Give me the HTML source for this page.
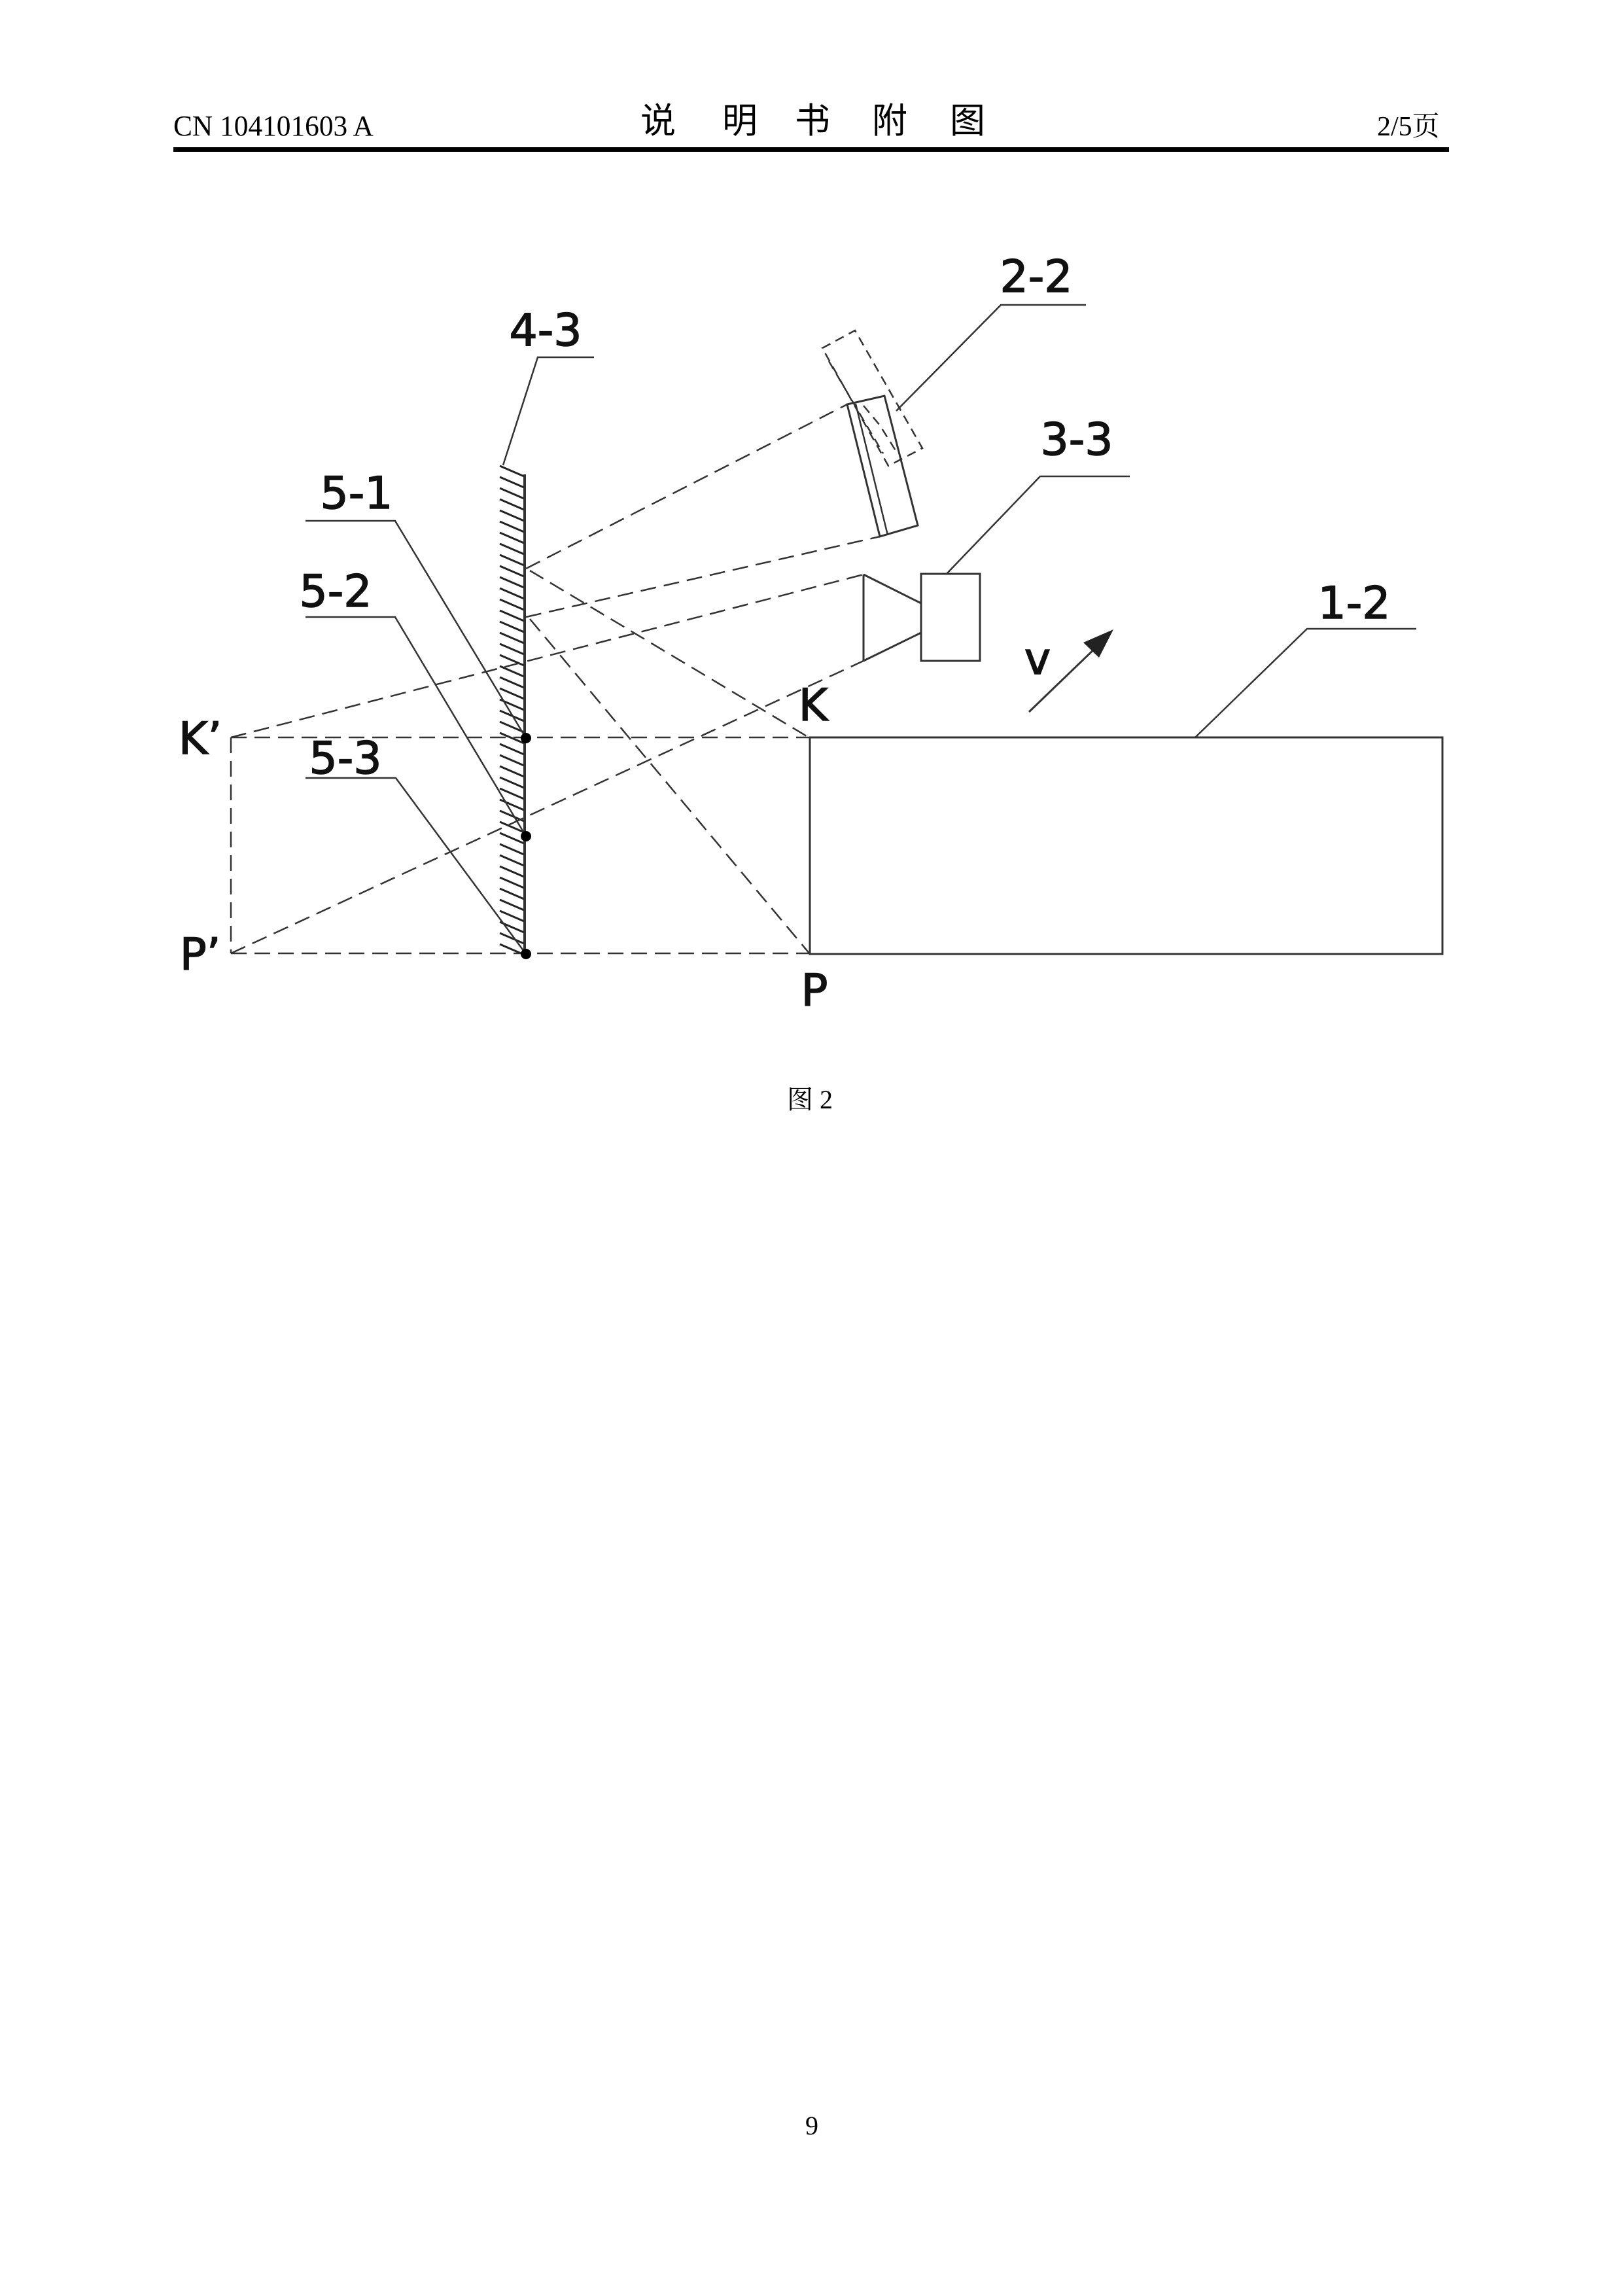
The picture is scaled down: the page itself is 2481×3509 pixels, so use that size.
<!DOCTYPE html>
<html><head><meta charset="utf-8"><style>
html,body{margin:0;padding:0;background:#fff;}
svg{display:block;}
</style></head><body>
<svg width="2481" height="3509" viewBox="0 0 2481 3509" xmlns="http://www.w3.org/2000/svg">
<rect width="2481" height="3509" fill="#fff"/>
<g font-family="'Liberation Serif','Noto Serif CJK SC',serif" fill="#000">
<text x="265" y="207" font-size="44" textLength="306" lengthAdjust="spacingAndGlyphs">CN 104101603 A</text>
<text font-size="54" y="203" font-family="'Noto Sans CJK SC',sans-serif">
<tspan x="979">说</tspan><tspan x="1104">明</tspan><tspan x="1215">书</tspan><tspan x="1333">附</tspan><tspan x="1452">图</tspan></text>
<text x="2105" y="207" font-size="42">2/5<tspan font-family="'Noto Serif CJK SC',serif">页</tspan></text>
<rect x="265" y="225" width="1950" height="7" fill="#000"/>
</g>

<g stroke="#333" stroke-width="3" fill="none">
<g id="hatch" stroke-width="3" stroke="#222"></g>
<line x1="802" y1="725" x2="802" y2="1460" stroke-width="4"/>

<g stroke-dasharray="24 12" stroke-width="2.5">
<line x1="804" y1="869" x2="1295" y2="618"/>
<line x1="804" y1="943" x2="1345" y2="820"/>
<line x1="810" y1="872" x2="1238" y2="1128"/>
<line x1="810" y1="946" x2="1238" y2="1458"/>
<line x1="353" y1="1127" x2="1320" y2="878"/>
<line x1="353" y1="1457" x2="1320" y2="1010"/>
<line x1="353" y1="1127" x2="1238" y2="1127"/>
<line x1="353" y1="1457" x2="1238" y2="1457"/>
<line x1="353" y1="1127" x2="353" y2="1457"/>
</g>

<g>
<polygon points="1295,618 1352,605 1403,803 1345,820"/>
<line x1="1308" y1="617" x2="1357" y2="818" stroke-width="2.5"/>
<g stroke-dasharray="14 9" stroke-width="2.5">
<polygon points="1257,532 1307,505 1410,685 1358,712"/>
<line x1="1267" y1="552" x2="1350" y2="693"/>
<polyline points="1320,620 1345,650 1370,690"/>
</g>
</g>

<g>
<rect x="1408" y="877" width="90" height="133"/>
<line x1="1320" y1="878" x2="1320" y2="1010"/>
<line x1="1320" y1="878" x2="1408" y2="922"/>
<line x1="1320" y1="1010" x2="1408" y2="967"/>
</g>

<rect x="1238" y="1127" width="967" height="331"/>

<g>
<line x1="1573" y1="1088" x2="1680" y2="985"/>
<polygon points="1702,962 1656,982 1680,1005" fill="#222" stroke="none"/>
</g>

<g stroke-width="2.5">
<polyline points="908,546 822,546 769,711"/>
<polyline points="467,796 604,796 804,1128"/>
<polyline points="467,943 604,943 804,1278"/>
<polyline points="467,1189 605,1189 804,1458"/>
<polyline points="1660,466 1530,466 1370,628"/>
<polyline points="1727,728 1590,728 1447,877"/>
<polyline points="2165,961 1998,961 1827,1127"/>
</g>
</g>

<g fill="#000">
<circle cx="804" cy="1128" r="8"/>
<circle cx="804" cy="1278" r="8"/>
<circle cx="804" cy="1458" r="8"/>
</g>

<g font-family="'DejaVu Sans','Liberation Sans',sans-serif" font-size="68" fill="#111" stroke="#111" stroke-width="1.5" text-anchor="middle">
<text x="834" y="528">4-3</text>
<text x="545" y="777">5-1</text>
<text x="513" y="927">5-2</text>
<text x="528" y="1182">5-3</text>
<text x="1584" y="446">2-2</text>
<text x="1646" y="695">3-3</text>
<text x="2070" y="945">1-2</text>
<text x="1586" y="1030">v</text>
<text x="1243" y="1101">K</text>
<text x="1245" y="1537">P</text>
<text x="306" y="1152">K’</text>
<text x="306" y="1482">P’</text>
</g>

<text x="1203" y="1694" font-size="40" font-family="'Liberation Serif','Noto Serif CJK SC',serif"><tspan font-family="'Noto Serif CJK SC',serif">图</tspan> 2</text>
<text x="1241" y="3262" font-size="40" text-anchor="middle" font-family="'Liberation Serif',serif">9</text>
</svg>
<script>
var g=document.getElementById('hatch');
for(var y=712;y<1450;y+=17){
  var l=document.createElementNS('http://www.w3.org/2000/svg','line');
  
  
  l.setAttribute('x1',764);l.setAttribute('y1',y);
  l.setAttribute('x2',801);l.setAttribute('y2',y+16);
  g.appendChild(l);
}
</script>
</body></html>
